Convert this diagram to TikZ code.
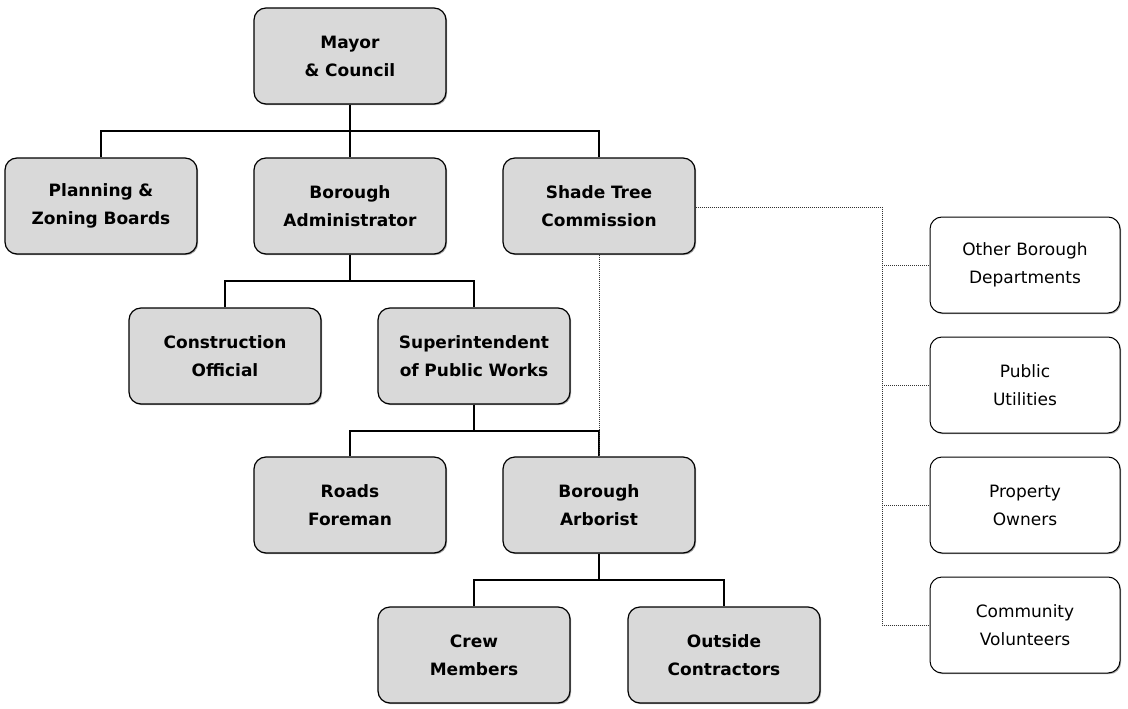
\documentclass[tikz,border=0pt]{standalone}
\usepackage{fontspec}
\setmainfont{DejaVu Sans}
\usetikzlibrary{shadows}

\begin{document}
\begin{tikzpicture}[x=1pt,y=-1pt,
  unit/.style={draw=black, line width=1.2pt, rounded corners=12pt, fill=gray!30,
    minimum width=192pt, minimum height=96pt, text width=180pt, align=center,
    font=\fontsize{17}{28}\selectfont\bfseries,
    drop shadow={shadow xshift=1.2pt, shadow yshift=-1.2pt, fill=gray!70, opacity=1}},
  party/.style={draw=black, line width=1pt, rounded corners=12pt, fill=white,
    minimum width=190pt, minimum height=96pt, text width=180pt, align=center,
    font=\fontsize{17}{28}\selectfont,
    drop shadow={shadow xshift=1.2pt, shadow yshift=-1.2pt, fill=gray!70, opacity=1}},
  link/.style={line width=1.8pt},
  tie/.style={line width=1pt, dash pattern=on 1pt off 1pt, black!80}]
\useasboundingbox (0,0) rectangle (1128,709);

% chain of command
\node[unit] (mayor) at (350,56) {Mayor\\\& Council};
\node[unit] (plan) at (101,206) {Planning \&\\Zoning Boards};
\node[unit] (admin) at (350,206) {Borough\\Administrator};
\node[unit] (shade) at (599,206) {Shade Tree\\Commission};
\node[unit] (build) at (225,356) {Construction\\Official};
\node[unit] (works) at (474,356) {Superintendent\\of Public Works};
\node[unit] (roads) at (350,505) {Roads\\Foreman};
\node[unit] (arbor) at (599,505) {Borough\\Arborist};
\node[unit] (crew) at (474,655) {Crew\\Members};
\node[unit] (contract) at (724,655) {Outside\\Contractors};

% outside parties
\node[party] (depts) at (1025,265) {Other Borough\\Departments};
\node[party] (utils) at (1025,385) {Public\\Utilities};
\node[party] (owners) at (1025,505) {Property\\Owners};
\node[party] (volun) at (1025,625) {Community\\Volunteers};

\coordinate (bus1) at (350,131);
\coordinate (bus2) at (350,281);
\coordinate (bus3) at (474,431);
\coordinate (bus4) at (599,580);
\coordinate (spine) at (882,207);

\draw[link] (mayor.south) -- (admin.north);
\draw[link] (plan.north) |- (bus1) -| (shade.north);
\draw[link] (admin.south) -- (bus2);
\draw[link] (build.north) |- (bus2) -| (works.north);
\draw[link] (works.south) -- (bus3);
\draw[link] (roads.north) |- (bus3) -| (arbor.north);
\draw[link] (arbor.south) -- (bus4);
\draw[link] (crew.north) |- (bus4) -| (contract.north);

\draw[tie] (shade.south) -- (arbor.north);
\draw[tie] (shade.east |- spine) -- (spine) |- (volun.west);
\draw[tie] (spine |- depts.west) -- (depts.west);
\draw[tie] (spine |- utils.west) -- (utils.west);
\draw[tie] (spine |- owners.west) -- (owners.west);
\end{tikzpicture}
\end{document}
